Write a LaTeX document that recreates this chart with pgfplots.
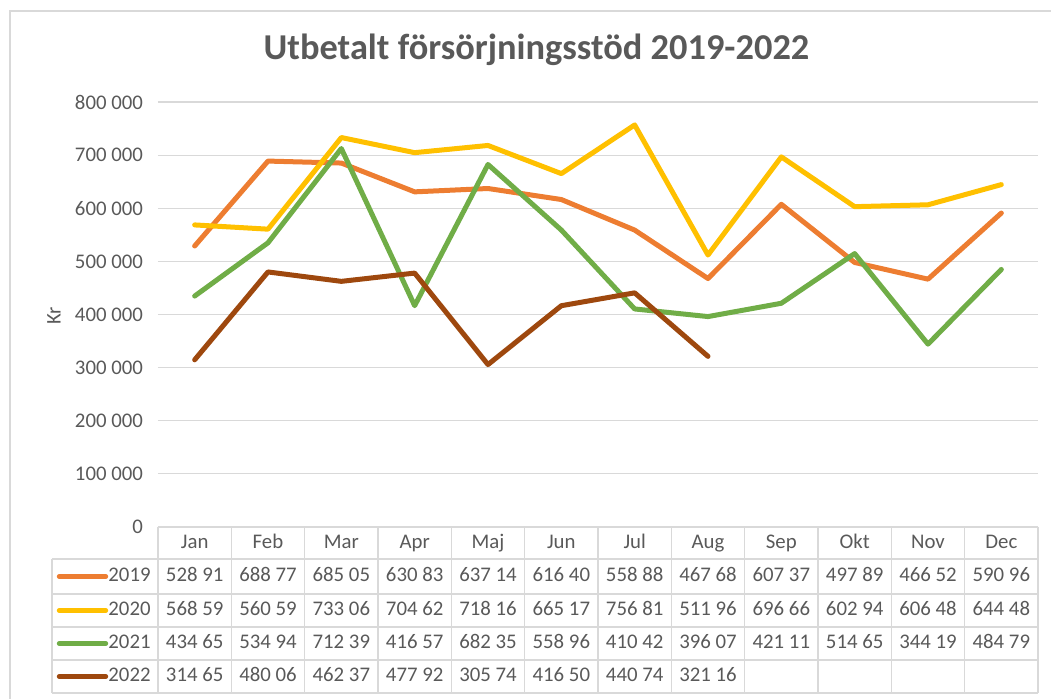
\documentclass[border=0pt]{standalone}
\usepackage{fontspec}
\setmainfont{Carlito}
\usepackage{pgfplots}
\pgfplotsset{compat=1.18}
\definecolor{c19}{HTML}{ED7D31}
\definecolor{c20}{HTML}{FFC000}
\definecolor{c21}{HTML}{70AD47}
\definecolor{c22}{HTML}{9E480E}
\definecolor{txt}{HTML}{595959}
\definecolor{grd}{HTML}{D9D9D9}
\newcommand{\tf}{\fontsize{10.4}{12}\selectfont}
\begin{document}
\begin{tikzpicture}
\path[use as bounding box] (0pt,0pt) rectangle (525.5pt,349.5pt);
\begin{axis}[
  at={(79pt,86pt)}, anchor=south west,
  width=440pt, height=212.5pt, scale only axis,
  xmin=-0.5, xmax=11.5, ymin=0, ymax=800000,
  xtick=\empty, scaled y ticks=false,
  ytick={0,100000,200000,300000,400000,500000,600000,700000,800000},
  yticklabels={0,100 000,200 000,300 000,400 000,500 000,600 000,700 000,800 000},
  yticklabel style={font=\tf, text=txt, xshift=-4pt},
  ymajorgrids, grid style={grd, line width=0.6pt},
  axis line style={draw=none}, major tick length=0pt,
  every axis plot/.append style={line width=2.5pt, line join=round, line cap=round},
]
\addplot[c19] coordinates {(0,528910)(1,688770)(2,685050)(3,630830)(4,637140)(5,616400)(6,558880)(7,467680)(8,607370)(9,497890)(10,466520)(11,590960)};
\addplot[c20] coordinates {(0,568590)(1,560590)(2,733060)(3,704620)(4,718160)(5,665170)(6,756810)(7,511960)(8,696660)(9,602940)(10,606480)(11,644480)};
\addplot[c21] coordinates {(0,434650)(1,534940)(2,712390)(3,416570)(4,682350)(5,558960)(6,410420)(7,396070)(8,421110)(9,514650)(10,344190)(11,484790)};
\addplot[c22] coordinates {(0,314650)(1,480060)(2,462370)(3,477920)(4,305740)(5,416500)(6,440740)(7,321160)};
\end{axis}
\begin{scope}[x=0.5pt,y=-0.5pt,shift={(0pt,349.5pt)}, cell/.style={font=\tf, text=txt, text height=1.45ex, text depth=0.3ex}]
\draw[grd, line width=0.6pt] (10,699) -- (10,11) -- (1051,11);
\node[font=\bfseries\fontsize{18.2}{21}\selectfont, text=txt] at (536.5,50) {Utbetalt försörjningsstöd 2019-2022};
\node[font=\tf, text=txt, rotate=90] at (54,316) {Kr};
% table grid
\draw[grd, line width=0.6pt] (158,527) -- (1038,527);
\foreach \yy in {559,594,627,660,693} {\draw[grd, line width=0.6pt] (52,\yy) -- (1038,\yy);}
\draw[grd, line width=0.6pt] (52,559) -- (52,693);
\foreach \i in {0,...,12} {\draw[grd, line width=0.6pt] ({158+\i*880/12},527) -- ({158+\i*880/12},693);}
% header
\foreach \m [count=\i from 0] in {Jan,Feb,Mar,Apr,Maj,Jun,Jul,Aug,Sep,Okt,Nov,Dec}
  {\node[cell] at ({158+(\i+0.5)*880/12},543) {\m};}
% rows
\foreach \v [count=\i from 0] in {528 91,688 77,685 05,630 83,637 14,616 40,558 88,467 68,607 37,497 89,466 52,590 96}
  {\node[cell] at ({158+(\i+0.5)*880/12},576.5) {\v};}
\foreach \v [count=\i from 0] in {568 59,560 59,733 06,704 62,718 16,665 17,756 81,511 96,696 66,602 94,606 48,644 48}
  {\node[cell] at ({158+(\i+0.5)*880/12},610.5) {\v};}
\foreach \v [count=\i from 0] in {434 65,534 94,712 39,416 57,682 35,558 96,410 42,396 07,421 11,514 65,344 19,484 79}
  {\node[cell] at ({158+(\i+0.5)*880/12},643.5) {\v};}
\foreach \v [count=\i from 0] in {314 65,480 06,462 37,477 92,305 74,416 50,440 74,321 16}
  {\node[cell] at ({158+(\i+0.5)*880/12},676.5) {\v};}
% legend keys
\foreach \c/\y/\yy in {c19/2019/576.5,c20/2020/610.5,c21/2021/643.5,c22/2022/676.5} {
  \draw[\c, line width=2.2pt, line cap=round] (59,\yy) -- (106,\yy);
  \node[cell, anchor=east, inner sep=0pt] at (151,\yy) {\y};
}
\end{scope}
\end{tikzpicture}
\end{document}
